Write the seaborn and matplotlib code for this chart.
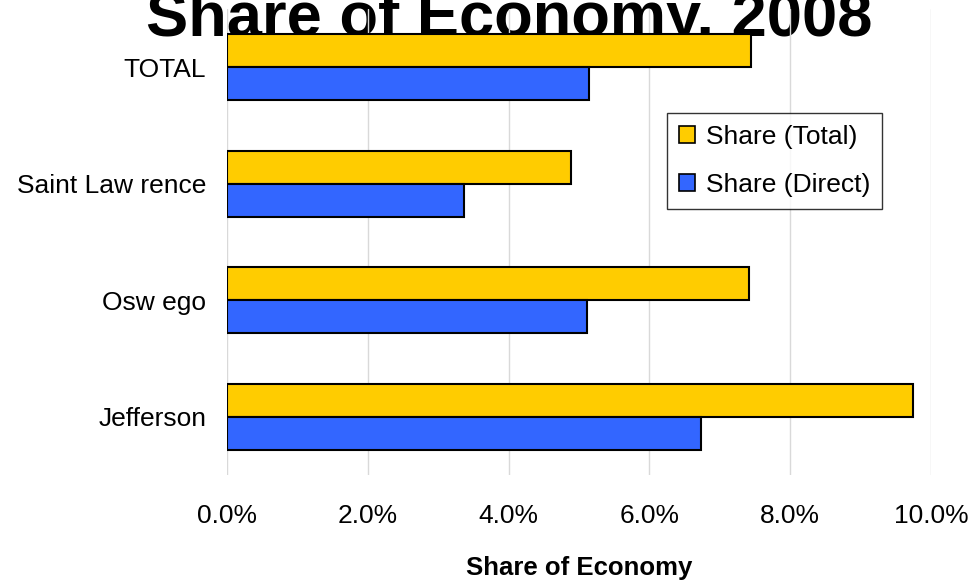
import pandas as pd
import matplotlib.pyplot as plt
import seaborn as sns
from matplotlib.ticker import PercentFormatter

# データ
counties = ['TOTAL', 'Saint Law rence', 'Osw ego', 'Jefferson']
share_total = [7.44, 4.89, 7.41, 9.74]
share_direct = [5.14, 3.37, 5.11, 6.73]
series_names = ['Share (Total)', 'Share (Direct)']
bar_colors = ['#FFCC00', '#3366FF']
xticks = [0, 2, 4, 6, 8, 10]

df = pd.DataFrame({
    'county': counties * 2,
    'share': share_total + share_direct,
    'series': [series_names[0]] * len(counties) + [series_names[1]] * len(counties),
})

sns.set_style('white', rc={'text.color': 'black', 'xtick.color': 'black',
                           'ytick.color': 'black', 'axes.labelcolor': 'black'})
plt.rcParams['font.family'] = ['Liberation Sans', 'DejaVu Sans']

fig = plt.figure(figsize=(9.78, 5.82), dpi=100)
ax = fig.add_axes([227 / 978, 1 - 475 / 582, 704 / 978, 466 / 582])
ax.set_facecolor('none')

sns.barplot(data=df, x='share', y='county', hue='series', order=counties,
            hue_order=series_names, palette=bar_colors, saturation=1, width=0.57,
            edgecolor='black', linewidth=1.5, ax=ax, legend=True)

# 軸の設定
ax.set_xlim(0, 10)
ax.set_ylim(3.5, -0.5)
ax.set_xticks(xticks)
ax.xaxis.set_major_formatter(PercentFormatter(decimals=1))
ax.grid(axis='x', color='#D9D9D9', linewidth=1)
ax.set_axisbelow(True)
for s in ax.spines.values():
    s.set_visible(False)
ax.tick_params(axis='x', length=0, pad=21, labelsize=19)
ax.tick_params(axis='y', length=0, pad=15, labelsize=19)
ax.set_ylabel('')
ax.set_xlabel('Share of Economy', fontsize=18.5, fontweight='bold', labelpad=20)

# 凡例
leg = ax.legend(loc='upper right', bbox_to_anchor=(882 / 978, 1 - 113 / 582),
                bbox_transform=fig.transFigure, borderaxespad=0,
                fontsize=19, frameon=True, fancybox=False,
                handlelength=0.6, handleheight=0.6, handletextpad=0.4,
                labelspacing=0.9, borderpad=0.45)
leg.get_frame().set_edgecolor('black')
leg.get_frame().set_linewidth(1.0)
for h in leg.legend_handles:
    h.set_linewidth(1.2)

# タイトル（棒の後ろに描く）
fig.text(509 / 978, 1 - 36 / 582, 'Share of Economy, 2008', ha='center',
         va='baseline', fontsize=45.5, fontweight='bold', zorder=-1)

fig.savefig('out.png', dpi=100)
